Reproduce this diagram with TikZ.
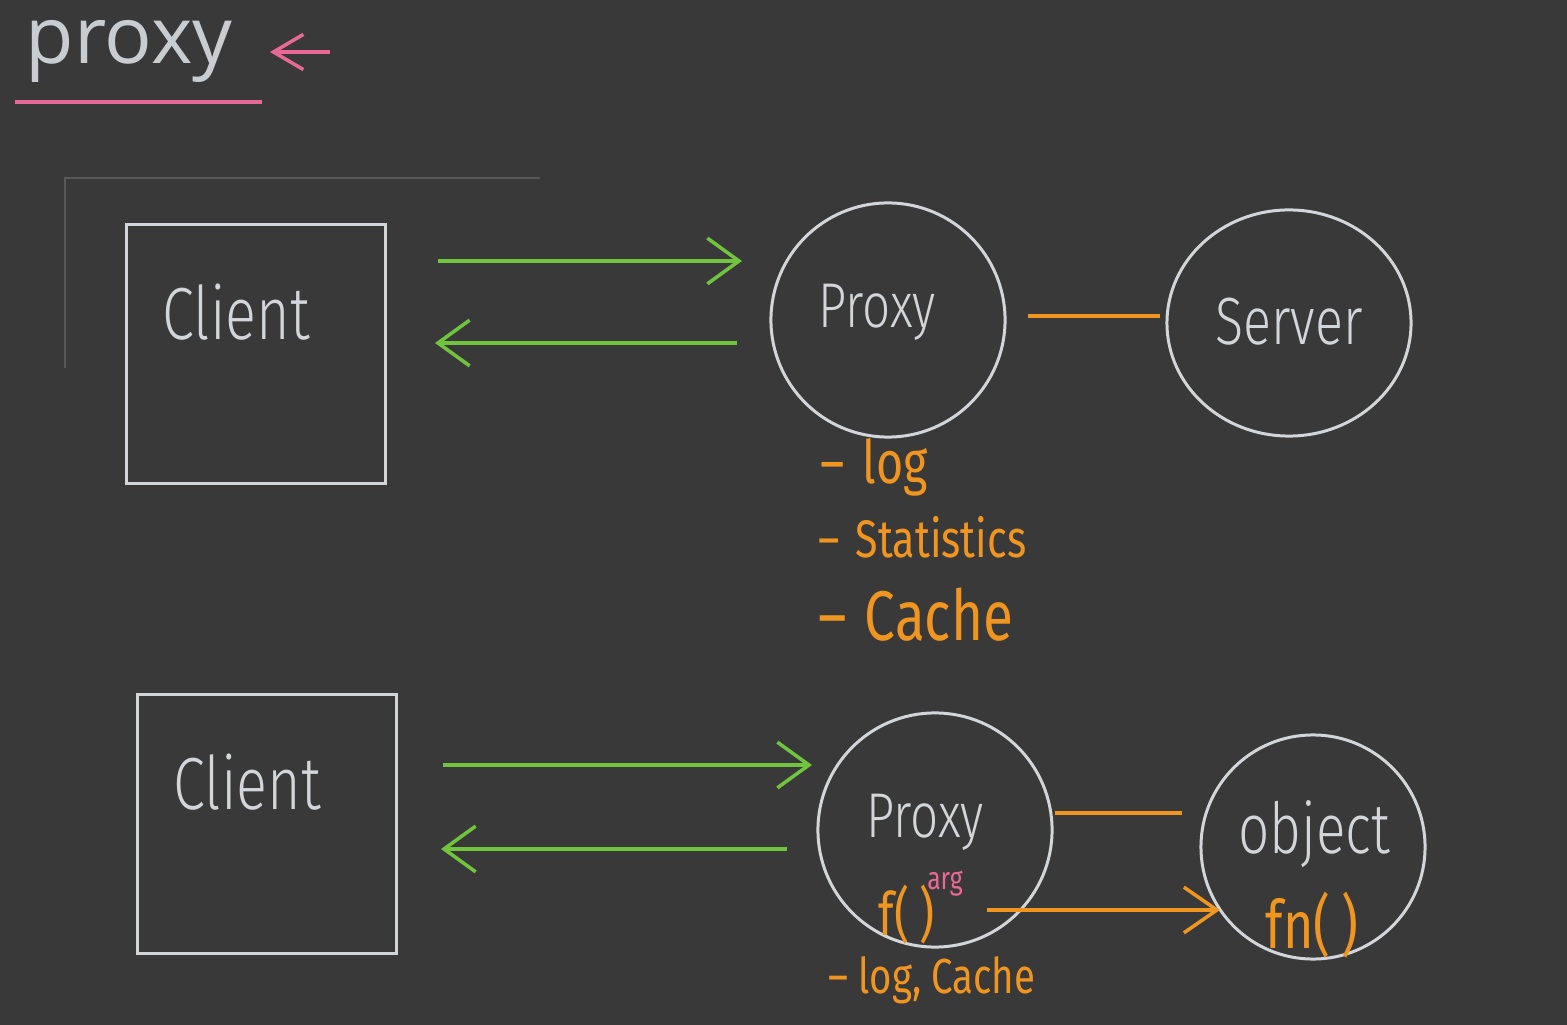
\documentclass[tikz,border=0pt]{standalone}
\usepackage{fontspec}
\setmainfont{Open Sans}
\newfontfamily\hand[FakeStretch=0.78]{Fira Sans Light}
\newfontfamily\handb[FakeStretch=0.78]{Fira Sans}
\usetikzlibrary{arrows.meta,shapes.geometric}
\definecolor{bg}{RGB}{57,57,57}
\definecolor{chalk}{RGB}{210,214,218}
\definecolor{titlec}{RGB}{200,205,210}
\definecolor{gr}{RGB}{112,196,62}
\definecolor{org}{RGB}{240,150,32}
\definecolor{pnk}{RGB}{232,105,150}
\definecolor{faint}{RGB}{88,88,88}
\tikzset{
  box/.style={draw=chalk, line width=0.85pt, minimum size=2.58cm, inner sep=0pt},
  ring/.style={draw=chalk, line width=0.85pt, ellipse, inner sep=0pt},
  garrow/.style={draw=gr, line width=1pt, -{Straight Barb[length=9pt,width=13pt]}},
  oarrow/.style={draw=org, line width=1pt, -{Straight Barb[length=9.4pt,width=13pt]}},
  oline/.style={draw=org, line width=1pt},
  htext/.style={text=chalk, font=\hand\fontsize{#1}{#1}\selectfont, inner sep=0pt},
  otext/.style={text=org, font=\handb\fontsize{#1}{#1}\selectfont, inner sep=0pt, anchor=west},
}
\begin{document}
\begin{tikzpicture}[x=0.01cm,y=-0.01cm]
\fill[bg] (0,0) rectangle (1567,1025);
\useasboundingbox (0,0) rectangle (1567,1025);
% faint frame
\draw[faint, line width=0.4pt] (65,368) -- (65,178) -- (540,178);
% title
\node[text=titlec, font=\fontsize{22.5pt}{26pt}\selectfont, anchor=base west, inner sep=0pt] (title) at (25,64) {proxy};
\coordinate (pa) at (330,52);
\coordinate (pb) at (270,52);
\draw[pnk, line width=1pt, -{Straight Barb[length=8.5pt,width=10pt]}] (pa) -- (pb);
\coordinate (u1) at (15,102);
\coordinate (u2) at (262,102);
\draw[pnk, line width=1.15pt] (u1) -- (u2);

% ---------- top row ----------
\node[box] (c1) at (256,354) {};
\node[htext=21pt, anchor=west] (c1t) at (162,312) {Client};
\node[ring, minimum width=2.34cm, minimum height=2.34cm] (p1) at (888,320) {};
\node[htext=18pt] (p1t) at (877,312) {Proxy};
\node[ring, minimum width=2.44cm, minimum height=2.26cm] (s1) at (1289,323) {};
\node[htext=19pt] (s1t) at (1289,322) {Server};
\coordinate (g1a) at (438,261);
\coordinate (g1b) at (742,261);
\coordinate (g2a) at (737,343);
\coordinate (g2b) at (435,343);
\draw[garrow] (g1a) -- (g1b);
\draw[garrow] (g2a) -- (g2b);
\coordinate (o1a) at (1028,316);
\coordinate (o1b) at (1160,316);
\draw[oline] (o1a) -- (o1b);
\node[otext=17pt] (l1) at (820,467) {–\hspace{0.3em}log};
\node[otext=15pt] (l2) at (818,537) {–\hspace{0.3em}Statistics};
\node[otext=20pt] (l3) at (818,615) {–\hspace{0.25em}Cache};

% ---------- bottom row ----------
\node[box] (c2) at (267,824) {};
\node[htext=21pt, anchor=west] (c2t) at (173,782) {Client};
\node[ring, minimum width=2.34cm, minimum height=2.34cm] (p2) at (935,830) {};
\node[htext=18pt] (p2t) at (925,822) {Proxy};
\node[ring, minimum width=2.24cm, minimum height=2.24cm] (ob) at (1313,847) {};
\node[htext=20pt] (obt) at (1314,834) {object};
\coordinate (g3a) at (443,765);
\coordinate (g3b) at (812,765);
\coordinate (g4a) at (787,849);
\coordinate (g4b) at (441,849);
\draw[garrow] (g3a) -- (g3b);
\draw[garrow] (g4a) -- (g4b);
\coordinate (o2a) at (1055,813);
\coordinate (o2b) at (1182,813);
\draw[oline] (o2a) -- (o2b);
\node[otext=17pt] (ft) at (878,915) {f(\,)};
\node[text=pnk, font=\handb\fontsize{9pt}{9pt}\selectfont, inner sep=0pt] (arg) at (945,884) {arg};
\coordinate (o3a) at (987,910);
\coordinate (o3b) at (1220,910);
\draw[oarrow] (o3a) -- (o3b);
\node[otext=19pt] (fn) at (1265,925) {fn(\,)};
\node[otext=14pt] (lc) at (828,980) {–\hspace{0.2em}log, Cache};
\end{tikzpicture}
\end{document}
